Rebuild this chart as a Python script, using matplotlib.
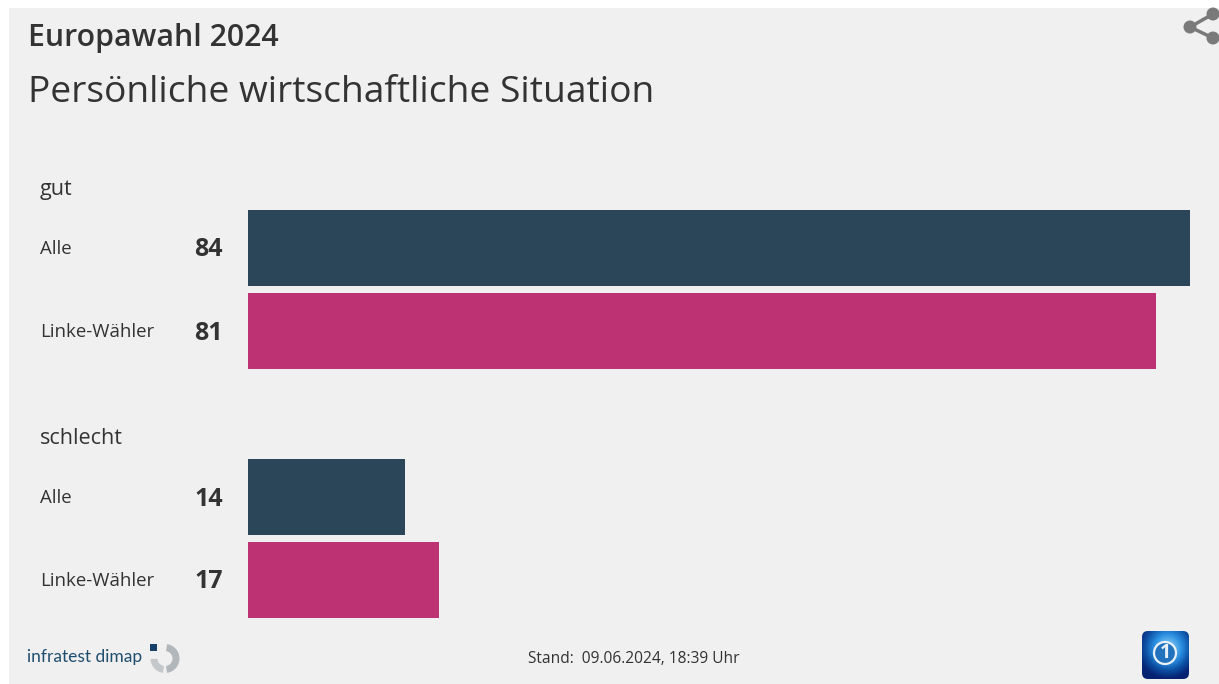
import matplotlib
matplotlib.use("Agg")
import matplotlib.pyplot as plt
from matplotlib.colors import LinearSegmentedColormap
from matplotlib.patches import Circle, FancyBboxPatch, Rectangle, Wedge
import numpy as np

W, H = 1219, 684

TITLE = "Europawahl 2024"
SUBTITLE = "Persönliche wirtschaftliche Situation"
GROUPS = ["gut", "schlecht"]
SERIES = ["Alle", "Linke-Wähler"]
GUT_VALUES = [84, 81]
SCHLECHT_VALUES = [14, 17]
BAR_COLORS = ["#2c4659", "#bc3273"]
STAND = "Stand:  09.06.2024, 18:39 Uhr"

BG = "#f0f0f0"
TEXT = "#333333"

plt.rcParams["font.family"] = ["Open Sans", "DejaVu Sans"]

fig = plt.figure(figsize=(W / 100, H / 100), dpi=100, facecolor="white")

# pixel canvas for panel, text and logos
ax = fig.add_axes([0, 0, 1, 1])
ax.set_xlim(0, W)
ax.set_ylim(H, 0)
ax.axis("off")
ax.add_patch(Rectangle((9, 8), W - 9, 676, color=BG, lw=0))

ax.text(28, 38, TITLE, fontsize=21.8, fontweight="semibold", color=TEXT, va="center")
ax.text(28, 93, SUBTITLE, fontsize=26.75, color=TEXT, va="center")

# bars: value axis runs from the left edge of the bars
bar_left, bar_right = 248, 1190
bar_ax = fig.add_axes([bar_left / W, 0, (bar_right - bar_left) / W, 1])
bar_ax.set_xlim(0, max(GUT_VALUES))
bar_ax.set_ylim(H, 0)
bar_ax.axis("off")
bar_ax.patch.set_alpha(0)

group_tops = [210, 459]
for group, values, top in zip(GROUPS, [GUT_VALUES, SCHLECHT_VALUES], group_tops):
    ax.text(40, top - 20, group, fontsize=15.5, color=TEXT, va="center")
    for i, (name, val, col) in enumerate(zip(SERIES, values, BAR_COLORS)):
        y = top + 38 + i * 83
        bar_ax.barh(y, val, height=76, color=col, lw=0)
        ax.text(40, y + 1, name, fontsize=13.4, color=TEXT, va="center")
        ax.text(194.5, y + 2, str(val), fontsize=18, fontweight="bold", color=TEXT, va="center")

# footer
ax.text(27, 657, "infratest dimap", fontsize=12.5, color="#1f4e6e", va="center", family="Lato")
ax.add_patch(Wedge((165, 658.5), 14.5, -82, 82, width=7, color="#b2b7bb", lw=0))
ax.add_patch(Wedge((165, 658.5), 14.5, 98, 178, width=7, color="#c4c8cb", lw=0))
ax.add_patch(Rectangle((150, 644), 7, 7, color="#17406b", lw=0))
ax.text(528, 659, STAND, fontsize=11.2, color=TEXT, va="center")

# tagesschau logo
box = FancyBboxPatch((1145, 634), 41, 42, boxstyle="round,pad=3,rounding_size=6",
                     fc="none", ec="none", transform=ax.transData)
ax.add_patch(box)
gy, gx = np.mgrid[0:1:64j, 0:1:64j]
glow = np.clip(1 - np.hypot(gx - 0.55, gy - 0.38) / 0.62, 0, 1)
shade = np.clip(glow * 1.1 + (1 - gy) * 0.15, 0, 1)
globe_cmap = LinearSegmentedColormap.from_list("globe", ["#062170", "#0c4fa3", "#2a8ee0", "#7cc4f2"])
img = ax.imshow(shade, extent=(1142, 1189, 679, 631), cmap=globe_cmap, vmin=0, vmax=1,
                aspect="auto", zorder=3)
img.set_clip_path(box)
ax.add_patch(Circle((1165, 653), 11, fc="#2272bd", ec="#e8f0f8", lw=1.6, zorder=5))
ax.text(1165, 653, "1", fontsize=14, fontweight="bold", color="#e8f0f8", ha="center", va="center", zorder=6)
ax.set_xlim(0, W)
ax.set_ylim(H, 0)

# share icon
share = "#7a7a7a"
for x, y in [(1213, 14), (1213, 38)]:
    ax.plot([1190, x], [27, y], color=share, lw=2.5, zorder=3)
    ax.add_patch(Circle((x, y), 6.5, fc=share, lw=0, zorder=3))
ax.add_patch(Circle((1190, 27), 6.5, fc=share, lw=0, zorder=3))

fig.savefig("out.png", dpi=100, facecolor="white")
